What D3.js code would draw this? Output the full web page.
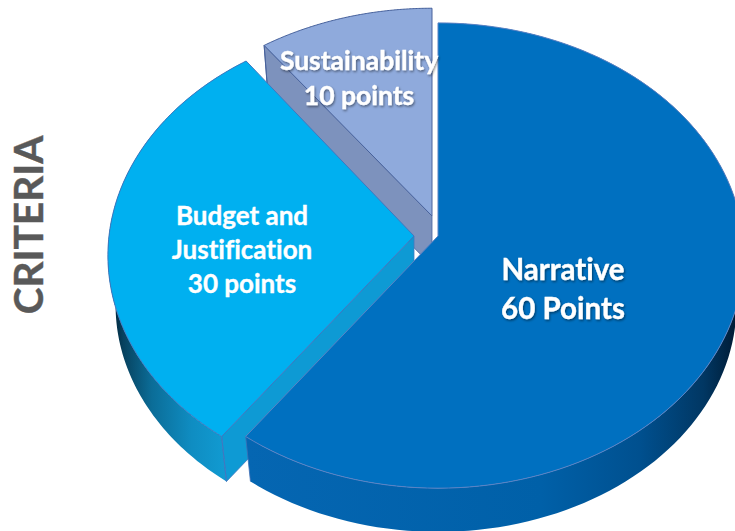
<!DOCTYPE html>
<html><head><meta charset="utf-8">
<script src="https://cdn.jsdelivr.net/npm/d3@7"></script>
<style>html,body{margin:0;padding:0;background:#fff;overflow:hidden}svg{display:block}text{font-family:Lato,"Open Sans",sans-serif;font-weight:700;font-variant-ligatures:none}</style>
</head><body><svg id="c" width="735" height="531" viewBox="0 0 735 531"></svg>
<script>
const categories = ["Narrative", "Budget and Justification", "Sustainability"];
const values = [60, 30, 10];
const labelLines = [["Narrative", "60 Points"], ["Budget and", "Justification", "30 points"], ["Sustainability", "10 points"]];
const axisTitle = "CRITERIA";

const topColors = ["#0070c0", "#00b0f0", "#8faadc"];
const wallColors = ["#0066b0", "#0e9ad4", "#7d92bd"];
const strokeColors = ["#5b82c4", "#3f78c0", "#48629c"];
const apexes = [[438, 236], [414, 236], [432, 216]];
const ryScale = [1, 1, 0.975];
const labelPos = [[563, 280, 39], [242, 225, 34], [359, 70, 35]];
const labelSize = [29.5, 26, 26.5];

const R = 305, Ry = 231, K = 0.084, DY = 50, DS = 0.975;
const svg = d3.select("#c");
const defs = svg.append("defs");
const grad = (id, x1, x2, stops) => {
  const g = defs.append("linearGradient").attr("id", id).attr("gradientUnits", "userSpaceOnUse")
    .attr("x1", x1).attr("x2", x2).attr("y1", 0).attr("y2", 0);
  stops.forEach(s => g.append("stop").attr("offset", s[0]).attr("stop-color", s[1]));
};
grad("side0", 246, 738, [[0, "#0566b2"], [0.6, "#0060a8"], [0.8, "#00508f"], [0.93, "#013763"], [1, "#001a33"]]);
grad("side1", 112, 226, [[0, "#002438"], [0.1, "#07425f"], [0.35, "#0b6d98"], [0.7, "#0f8dc2"], [1, "#119bd2"]]);
grad("side2", 260, 440, [[0, "#7d92bd"], [1, "#7d92bd"]]);
const f = defs.append("filter").attr("id", "sh").attr("x", "-10%").attr("y", "-20%").attr("width", "120%").attr("height", "150%");
f.append("feDropShadow").attr("dx", 1).attr("dy", 1.5).attr("stdDeviation", 1).attr("flood-color", "#000").attr("flood-opacity", 0.45);

const pie = d3.pie().sort(null).value(d => d)(values);
const proj = (a, apex, low, ys) => {
  const X = Math.sin(a), Y = Math.cos(a), s = 1 / (1 + K * Y), d = low ? DS : 1;
  return [apex[0] + R * X * s * d, apex[1] + (low ? DY : 0) - Ry * ys * Y * s * d];
};
const rim = (a0, a1, apex, low, ys) => d3.range(0, 121).map(i => proj(a0 + (a1 - a0) * i / 120, apex, low, ys));
const line = d3.line().curve(d3.curveLinear);

[2, 1, 0].forEach(i => {
  const p = pie[i], apex = apexes[i];
  const top = rim(p.startAngle, p.endAngle, apex, false, ryScale[i]);
  const low = rim(p.startAngle, p.endAngle, apex, true, ryScale[i]);
  const apexLow = [apex[0], apex[1] + DY];
  const g = svg.append("g").attr("class", "slice");
  g.append("path").attr("d", line(top.concat(low.slice().reverse())) + "Z")
    .attr("fill", `url(#side${i})`).attr("stroke", "none");
  if (i === 1 || i === 2) {
    g.append("path").attr("d", line([top[0], apex, apexLow, low[0]]) + "Z")
      .attr("fill", wallColors[i]).attr("stroke", strokeColors[i]).attr("stroke-width", 0.8);
    g.append("path").attr("d", line([top[0], low[0]])).attr("stroke", strokeColors[i]).attr("fill", "none");
  }
  if (i === 0) {
    g.append("path").attr("d", line([top[120], low[120]])).attr("stroke", "#3f6fb5").attr("fill", "none").attr("stroke-width", 0.8);
  }
  g.append("path").attr("d", line([apex].concat(top)) + "Z")
    .attr("fill", topColors[i]).attr("stroke", strokeColors[i]).attr("stroke-width", 1);
});

labelLines.forEach((lines, i) => {
  const t = svg.append("text").attr("text-anchor", "middle").attr("fill", "#fff")
    .attr("font-size", labelSize[i]).attr("stroke", "#fff").attr("stroke-width", 0.35)
    .attr("filter", i === 1 ? null : "url(#sh)");
  lines.forEach((l, j) => t.append("tspan").attr("x", labelPos[i][0]).attr("y", labelPos[i][1] + j * labelPos[i][2]).text(l));
});

svg.append("text").attr("transform", "translate(43,225) rotate(-90)").attr("text-anchor", "middle")
  .attr("fill", "#595959").attr("stroke", "#595959").attr("stroke-width", 0.4).attr("font-size", 40.5).text(axisTitle);
</script></body></html>
